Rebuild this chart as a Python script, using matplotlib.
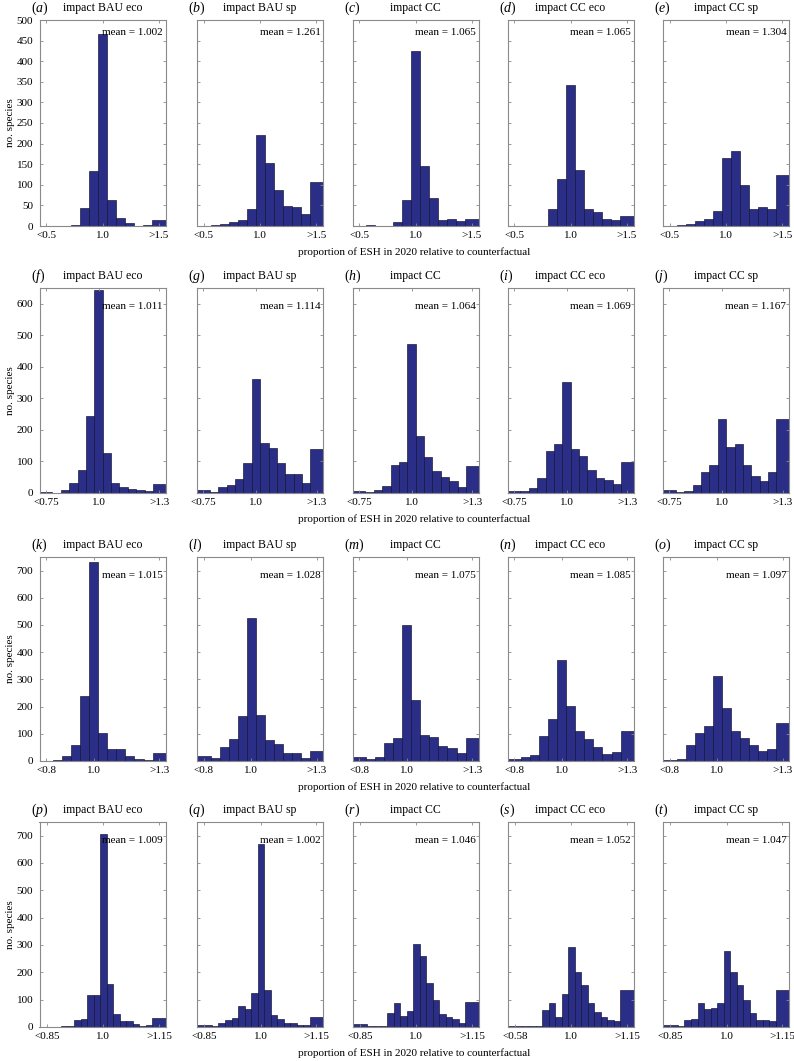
import matplotlib
matplotlib.use('Agg')
import matplotlib.pyplot as plt
import numpy as np

plt.rcParams['font.family'] = ['Liberation Serif', 'DejaVu Serif']
plt.rcParams['mathtext.fontset'] = 'custom'
plt.rcParams['mathtext.rm'] = 'Liberation Serif'
plt.rcParams['mathtext.it'] = 'Liberation Serif:italic'

# panel titles (same for every row)
titles = ['impact BAU eco', 'impact BAU sp', 'impact CC', 'impact CC eco', 'impact CC sp']
letters = list('abcdefghijklmnopqrst')

# counts per bin, left to right (first bin = "<low", last bin = ">high")
counts_r1 = [
    [0, 1, 1, 2, 43, 134, 465, 63, 20, 8, 1, 3, 14],
    [1, 2, 4, 10, 15, 41, 222, 153, 88, 48, 47, 29, 106],
    [0, 2, 1, 0, 10, 62, 425, 145, 68, 14, 17, 11, 17],
    [0, 1, 1, 1, 42, 113, 343, 135, 41, 33, 18, 14, 24],
    [1, 2, 4, 11, 16, 36, 164, 182, 99, 42, 45, 41, 125],
]
counts_r2 = [
    [3, 1, 10, 32, 74, 243, 643, 126, 33, 20, 13, 10, 5, 27],
    [11, 3, 20, 25, 45, 95, 360, 158, 142, 95, 60, 60, 32, 138],
    [6, 4, 8, 22, 90, 97, 474, 182, 114, 70, 52, 38, 20, 87],
    [6, 6, 16, 47, 134, 155, 351, 141, 118, 72, 48, 40, 28, 99],
    [8, 4, 5, 24, 67, 90, 236, 146, 154, 90, 55, 39, 67, 236],
]
counts_r3 = [
    [1, 3, 20, 59, 240, 733, 103, 45, 44, 18, 7, 5, 29],
    [17, 11, 50, 81, 164, 527, 170, 77, 61, 29, 28, 12, 36],
    [15, 8, 13, 68, 85, 500, 225, 95, 90, 55, 47, 28, 85],
    [6, 15, 23, 93, 153, 372, 202, 110, 81, 53, 27, 34, 112],
    [3, 7, 58, 102, 130, 314, 196, 112, 86, 59, 36, 43, 140],
]
counts_r4 = [
    [0, 1, 3, 5, 24, 31, 117, 118, 706, 159, 49, 22, 22, 10, 5, 8, 34],
    [6, 5, 16, 27, 34, 76, 67, 126, 668, 137, 45, 29, 16, 13, 8, 8, 38],
    [12, 4, 4, 3, 52, 86, 40, 58, 305, 260, 162, 100, 48, 35, 28, 14, 90],
    [3, 5, 3, 4, 61, 88, 37, 122, 294, 202, 153, 89, 55, 35, 25, 22, 135],
    [6, 5, 24, 29, 88, 67, 69, 86, 277, 200, 153, 100, 52, 27, 24, 21, 135],
]
means_r1 = ['1.002', '1.261', '1.065', '1.065', '1.304']
means_r2 = ['1.011', '1.114', '1.064', '1.069', '1.167']
means_r3 = ['1.015', '1.028', '1.075', '1.085', '1.097']
means_r4 = ['1.009', '1.002', '1.046', '1.052', '1.047']

xtick_r1 = ['<0.5', '1.0', '>1.5']
xtick_r2 = ['<0.75', '1.0', '>1.3']
xtick_r3 = ['<0.8', '1.0', '>1.3']
xtick_r4 = ['<0.85', '1.0', '>1.15']
xtick_s = ['<0.58', '1.0', '>1.15']   # as printed in panel (s)

rows = [
    # first = bin index of the "<low" bin (the 1.0 bin is 0)
    dict(counts=counts_r1, means=means_r1, labels=xtick_r1, first=-6, xlim=(-7.0, 7.0), ymax=500, ystep=50),
    dict(counts=counts_r2, means=means_r2, labels=xtick_r2, first=-6, xlim=(-7.05, 8.0), ymax=650, ystep=100),
    dict(counts=counts_r3, means=means_r3, labels=xtick_r3, first=-5, xlim=(-6.0, 7.93), ymax=750, ystep=100),
    dict(counts=counts_r4, means=means_r4, labels=xtick_r4, first=-8, xlim=(-9.8, 9.55), ymax=750, ystep=100),
]

W, H = 794, 1061
fig = plt.figure(figsize=(W / 100, H / 100), dpi=100)

col_left = [39.5, 197, 352.5, 507.5, 663]
col_w = 126
row_top = [20, 288, 557, 822]
row_bot = [226, 493, 761, 1027]
mean_y = [0.94, 0.91, 0.91, 0.91]

bar_color = '#2b2e86'
spine_color = '#8a8a8a'

for r, row in enumerate(rows):
    ah = row_bot[r] - row_top[r]
    for c in range(5):
        ax = fig.add_axes([col_left[c] / W, 1 - row_bot[r] / H, col_w / W, ah / H])
        counts = np.array(row['counts'][c])
        x0, x1 = row['xlim']
        slots = np.arange(row['first'], row['first'] + len(counts))
        lefts = slots - 0.5
        rights = slots + 0.5
        # open-ended bins run to the axis edges
        lefts[0] = x0
        rights[-1] = x1
        ax.bar(lefts, counts, width=rights - lefts, align='edge',
               color=bar_color, edgecolor='#101030', linewidth=0.45)
        ax.set_xlim(x0, x1)
        ax.set_ylim(0, row['ymax'])

        # ticks sit in the middle of the two open-ended bars
        xt = [(lefts[0] + rights[0]) / 2, 0, (lefts[-1] + rights[-1]) / 2]
        ax.set_xticks(xt)
        labels = row['labels']
        if r == 3 and c == 3:
            labels = xtick_s
        ax.set_xticklabels(labels, fontsize=8)
        ax.set_yticks(np.arange(0, row['ymax'] + 1, row['ystep']))
        if c == 0:
            ax.tick_params(axis='y', labelsize=8)
            ax.set_ylabel('no. species', fontsize=8, labelpad=1)
        else:
            ax.set_yticklabels([])
        ax.tick_params(direction='in', length=2.5, width=0.6, color=spine_color,
                       top=True, right=True)
        ax.tick_params(axis='x', pad=3.5)
        ax.tick_params(axis='y', pad=4.5)
        for sp in ax.spines.values():
            sp.set_color(spine_color)
            sp.set_linewidth(0.8)

        ax.text(0.98, mean_y[r], 'mean = ' + row['means'][c], transform=ax.transAxes,
                ha='right', va='center', fontsize=8)
        ax.text(0.5, 1.0 + 12 / ah, titles[c], transform=ax.transAxes,
                ha='center', va='center', fontsize=8.5)
        ax.text(-0.07, 1.0 + 12 / ah,
                r'$(\mathit{' + letters[r * 5 + c] + '})$', transform=ax.transAxes,
                ha='left', va='center', fontsize=10)

    fig.text(414 / W, 1 - (row_bot[r] + 26) / H,
             'proportion of ESH in 2020 relative to counterfactual',
             ha='center', va='center', fontsize=8)

fig.savefig('out.png', dpi=100)
